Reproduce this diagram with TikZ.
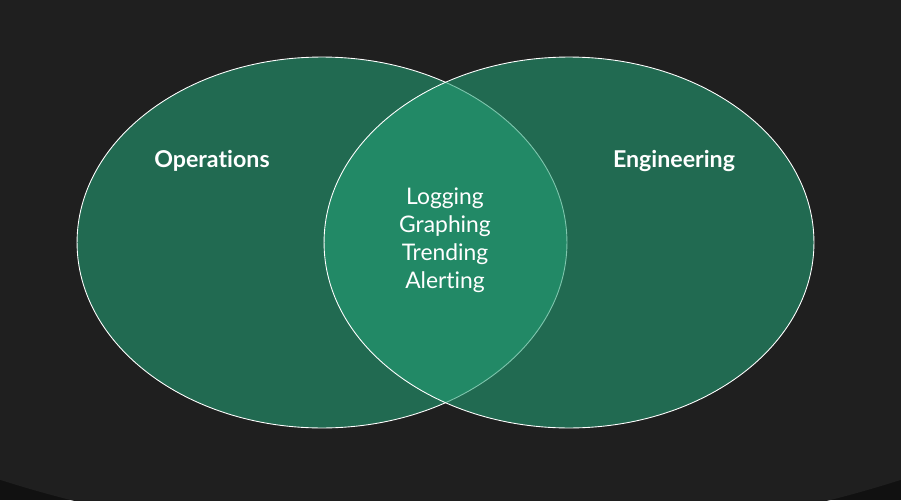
\documentclass[tikz,border=0pt]{standalone}
\usepackage{fontspec}
\setmainfont{Lato}[Ligatures=NoCommon]
\usetikzlibrary{shapes.geometric}
\definecolor{bgdark}{HTML}{111111}
\definecolor{bggray}{HTML}{1F1F1F}
\definecolor{setgreen}{RGB}{36,159,117}

\begin{document}
\begin{tikzpicture}[
  x=0.02cm, y=-0.02cm,
  set/.style={ellipse, draw=white!85, line width=0.5pt, fill=setgreen,
    fill opacity=0.59, minimum width=9.8cm, minimum height=7.42cm, inner sep=0pt},
  title/.style={text=white, font=\bfseries\fontsize{13.2}{15}\selectfont},
  items/.style={text=white, align=center, font=\fontsize{13}{16}\selectfont}
]
% backdrop
\fill[bgdark] (0,0) rectangle (901,500);
\begin{scope}
  \clip (0,0) rectangle (901,500);
  \fill[bggray] (450.5,200) ellipse [x radius=15.43cm, y radius=6.894cm];
\end{scope}
\useasboundingbox (0,0) rectangle (901,500);
% the two sets
\node[set] (ops) at (322,242.5) {};
\node[set] (eng) at (569,242.5) {};
\node[title] (opsl) at (212,160.5) {Operations};
\node[title] (engl) at (674,160.5) {Engineering};
\node[items] (shared) at (445,240) {Logging\\Graphing\\Trending\\Alerting};
\end{tikzpicture}
\end{document}
